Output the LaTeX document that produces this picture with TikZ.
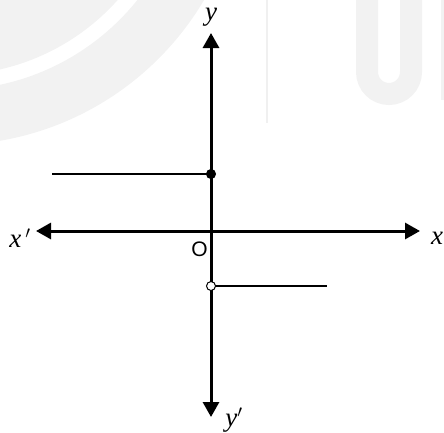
\documentclass[tikz,border=0pt]{standalone}
\usepackage{fontspec}
\setmainfont{Liberation Serif}
\newfontfamily\labelsans{Liberation Sans}
\usetikzlibrary{arrows.meta}
\begin{document}
\begin{tikzpicture}[x=1pt,y=-1pt,
  axis/.style={line width=3pt,-{Triangle[width=16pt,length=15pt]}},
  seg/.style={line width=2.8pt},
  wm/.style={black!5},
  lab/.style={font=\fontsize{27}{30}\selectfont\itshape, inner sep=0pt},
  dotfull/.style={circle,fill=black,draw=black,line width=1pt,minimum size=9pt,inner sep=0pt},
  dotopen/.style={circle,fill=white,draw=black,line width=1pt,minimum size=9pt,inner sep=0pt}]
\useasboundingbox (0,0) rectangle (444,432);
% faint watermark
\begin{scope}
\clip (0,0) rectangle (444,432);
\fill[wm,even odd rule] (-50,-150) circle (295) (-50,-150) circle (240);
\fill[wm] (-50,-150) circle (225);
\draw[black!6,line width=1.5pt] (267,0) -- (267,123);
\draw[wm,line width=22pt] (367,-5) -- (367,72) arc[start angle=180,end angle=0,radius=22] -- (411,-5);
\fill[wm] (441,0) rectangle (444,100);
\end{scope}
% axes
\coordinate (O) at (211,231);
\coordinate (xl) at (36,231);
\coordinate (xr) at (420,231);
\coordinate (yt) at (211,33);
\coordinate (yb) at (211,417);
\draw[axis] (O) -- (xr);
\draw[axis] (O) -- (xl);
\draw[axis] (O) -- (yt);
\draw[axis] (O) -- (yb);
% segments
\coordinate (A0) at (52,174);
\coordinate (B1) at (327,286);
\draw[seg] (A0) -- (211,174);
\draw[seg] (211,286) -- (B1);
\node[dotfull] (A) at (211,174) {};
\node[dotopen] (B) at (211,286) {};
% labels
\node[lab] (ly) at (211,17) {y};
\node[lab] (lx) at (437,238) {x};
\node[lab] (lxp) at (20,238) {x$\,'$};
\node[lab] (lyp) at (234,420) {y$'$};
\node[font=\labelsans\fontsize{21}{24}\selectfont, inner sep=0pt] (lO) at (199.5,249.5) {O};
\end{tikzpicture}
\end{document}
